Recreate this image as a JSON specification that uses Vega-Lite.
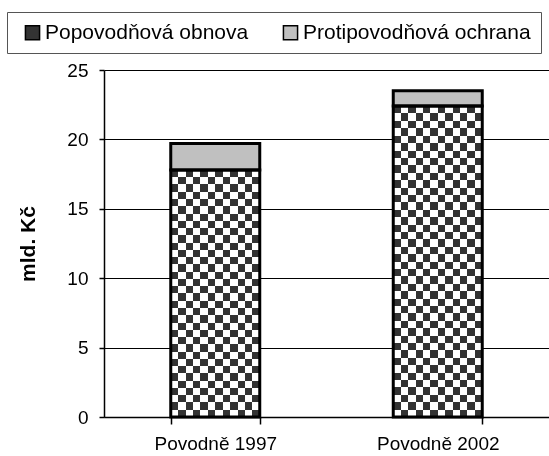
{
  "$schema": "https://vega.github.io/schema/vega-lite/v6.json",
  "autosize": {"type": "none"},
  "padding": {"left": 104, "top": 70, "right": 0, "bottom": 39},
  "width": 445,
  "height": 347,
  "background": "white",
  "config": {
    "font": "Liberation Sans",
    "view": {"stroke": null},
    "axis": {"labelColor": "black", "titleColor": "black", "domainColor": "black", "tickColor": "black", "labelFontSize": 19, "labelFont": "Liberation Sans"}
  },
  "data": {
    "values": [
      {"event": "Povodně 1997", "type": "Popovodňová obnova", "value": 17.8},
      {"event": "Povodně 1997", "type": "Protipovodňová ochrana", "value": 1.9},
      {"event": "Povodně 2002", "type": "Popovodňová obnova", "value": 22.4},
      {"event": "Povodně 2002", "type": "Protipovodňová ochrana", "value": 1.1}
    ]
  },
  "encoding": {
    "x": {
      "field": "event", "type": "nominal", "sort": null,
      "scale": {"paddingInner": 0.6, "paddingOuter": 0.3},
      "axis": {"title": null, "labelAngle": 0, "tickBand": "extent", "tickSize": 7, "labelPadding": 10, "domainWidth": 1.5, "tickWidth": 1.5, "grid": false}
    },
    "y": {
      "field": "value", "type": "quantitative", "stack": "zero",
      "scale": {"domain": [0, 25], "nice": false},
      "axis": {"title": "mld. Kč", "values": [0, 5, 10, 15, 20, 25], "grid": true, "gridColor": "black", "gridWidth": 1, "domainWidth": 1.5, "tickSize": 5, "tickWidth": 1.5, "labelPadding": 11, "titleFontSize": 21, "titleFontWeight": "bold", "titlePadding": 28}
    },
    "order": {"field": "type", "type": "nominal", "sort": "ascending"}
  },
  "layer": [
    {
      "mark": {"type": "bar"},
      "encoding": {
        "color": {
          "field": "type", "type": "nominal",
          "scale": {"domain": ["Popovodňová obnova", "Protipovodňová ochrana"], "range": ["#333333", "#C0C0C0"]},
          "legend": {
            "title": null, "orient": "none", "legendX": -97, "legendY": -58, "direction": "horizontal",
            "padding": 10, "strokeColor": "#555555", "fillColor": "white",
            "labelFontSize": 21, "labelFont": "Liberation Sans", "labelColor": "black", "labelOffset": 2, "labelLimit": 400,
            "symbolType": "square", "symbolSize": 200, "symbolStrokeColor": "black", "symbolStrokeWidth": 1.5, "symbolOffset": 5,
            "columnPadding": 26
          }
        }
      }
    },
    {
      "transform": [{"filter": "datum.type == 'Popovodňová obnova'"}],
      "mark": {"type": "bar", "fill": {"gradient": "linear", "x1": 0, "y1": 0, "x2": 1, "y2": 0, "stops": [
        {"offset": 0, "color": "#000"}, {"offset": 0.0833, "color": "#000"},
        {"offset": 0.0833, "color": "#fff"}, {"offset": 0.1667, "color": "#fff"},
        {"offset": 0.1667, "color": "#000"}, {"offset": 0.25, "color": "#000"},
        {"offset": 0.25, "color": "#fff"}, {"offset": 0.3333, "color": "#fff"},
        {"offset": 0.3333, "color": "#000"}, {"offset": 0.4167, "color": "#000"},
        {"offset": 0.4167, "color": "#fff"}, {"offset": 0.5, "color": "#fff"},
        {"offset": 0.5, "color": "#000"}, {"offset": 0.5833, "color": "#000"},
        {"offset": 0.5833, "color": "#fff"}, {"offset": 0.6667, "color": "#fff"},
        {"offset": 0.6667, "color": "#000"}, {"offset": 0.75, "color": "#000"},
        {"offset": 0.75, "color": "#fff"}, {"offset": 0.8333, "color": "#fff"},
        {"offset": 0.8333, "color": "#000"}, {"offset": 0.9167, "color": "#000"},
        {"offset": 0.9167, "color": "#fff"}, {"offset": 1, "color": "#fff"}
      ]}}
    },
    {
      "transform": [{"filter": "datum.type == 'Popovodňová obnova' && datum.event == 'Povodně 1997'"}],
      "mark": {"type": "bar", "blend": "difference", "fill": {"gradient": "linear", "x1": 0, "y1": 0, "x2": 0, "y2": 1, "stops": [
        {"offset": 0, "color": "#000"}, {"offset": 0.02941, "color": "#000"},
        {"offset": 0.02941, "color": "#fff"}, {"offset": 0.05882, "color": "#fff"},
        {"offset": 0.05882, "color": "#000"}, {"offset": 0.08824, "color": "#000"},
        {"offset": 0.08824, "color": "#fff"}, {"offset": 0.11765, "color": "#fff"},
        {"offset": 0.11765, "color": "#000"}, {"offset": 0.14706, "color": "#000"},
        {"offset": 0.14706, "color": "#fff"}, {"offset": 0.17647, "color": "#fff"},
        {"offset": 0.17647, "color": "#000"}, {"offset": 0.20588, "color": "#000"},
        {"offset": 0.20588, "color": "#fff"}, {"offset": 0.23529, "color": "#fff"},
        {"offset": 0.23529, "color": "#000"}, {"offset": 0.26471, "color": "#000"},
        {"offset": 0.26471, "color": "#fff"}, {"offset": 0.29412, "color": "#fff"},
        {"offset": 0.29412, "color": "#000"}, {"offset": 0.32353, "color": "#000"},
        {"offset": 0.32353, "color": "#fff"}, {"offset": 0.35294, "color": "#fff"},
        {"offset": 0.35294, "color": "#000"}, {"offset": 0.38235, "color": "#000"},
        {"offset": 0.38235, "color": "#fff"}, {"offset": 0.41176, "color": "#fff"},
        {"offset": 0.41176, "color": "#000"}, {"offset": 0.44118, "color": "#000"},
        {"offset": 0.44118, "color": "#fff"}, {"offset": 0.47059, "color": "#fff"},
        {"offset": 0.47059, "color": "#000"}, {"offset": 0.5, "color": "#000"},
        {"offset": 0.5, "color": "#fff"}, {"offset": 0.52941, "color": "#fff"},
        {"offset": 0.52941, "color": "#000"}, {"offset": 0.55882, "color": "#000"},
        {"offset": 0.55882, "color": "#fff"}, {"offset": 0.58824, "color": "#fff"},
        {"offset": 0.58824, "color": "#000"}, {"offset": 0.61765, "color": "#000"},
        {"offset": 0.61765, "color": "#fff"}, {"offset": 0.64706, "color": "#fff"},
        {"offset": 0.64706, "color": "#000"}, {"offset": 0.67647, "color": "#000"},
        {"offset": 0.67647, "color": "#fff"}, {"offset": 0.70588, "color": "#fff"},
        {"offset": 0.70588, "color": "#000"}, {"offset": 0.73529, "color": "#000"},
        {"offset": 0.73529, "color": "#fff"}, {"offset": 0.76471, "color": "#fff"},
        {"offset": 0.76471, "color": "#000"}, {"offset": 0.79412, "color": "#000"},
        {"offset": 0.79412, "color": "#fff"}, {"offset": 0.82353, "color": "#fff"},
        {"offset": 0.82353, "color": "#000"}, {"offset": 0.85294, "color": "#000"},
        {"offset": 0.85294, "color": "#fff"}, {"offset": 0.88235, "color": "#fff"},
        {"offset": 0.88235, "color": "#000"}, {"offset": 0.91176, "color": "#000"},
        {"offset": 0.91176, "color": "#fff"}, {"offset": 0.94118, "color": "#fff"},
        {"offset": 0.94118, "color": "#000"}, {"offset": 0.97059, "color": "#000"},
        {"offset": 0.97059, "color": "#fff"}, {"offset": 1, "color": "#fff"}
      ]}}
    },
    {
      "transform": [{"filter": "datum.type == 'Popovodňová obnova' && datum.event == 'Povodně 2002'"}],
      "mark": {"type": "bar", "blend": "difference", "fill": {"gradient": "linear", "x1": 0, "y1": 0, "x2": 0, "y2": 1, "stops": [
        {"offset": 0, "color": "#000"}, {"offset": 0.02381, "color": "#000"},
        {"offset": 0.02381, "color": "#fff"}, {"offset": 0.04762, "color": "#fff"},
        {"offset": 0.04762, "color": "#000"}, {"offset": 0.07143, "color": "#000"},
        {"offset": 0.07143, "color": "#fff"}, {"offset": 0.09524, "color": "#fff"},
        {"offset": 0.09524, "color": "#000"}, {"offset": 0.11905, "color": "#000"},
        {"offset": 0.11905, "color": "#fff"}, {"offset": 0.14286, "color": "#fff"},
        {"offset": 0.14286, "color": "#000"}, {"offset": 0.16667, "color": "#000"},
        {"offset": 0.16667, "color": "#fff"}, {"offset": 0.19048, "color": "#fff"},
        {"offset": 0.19048, "color": "#000"}, {"offset": 0.21429, "color": "#000"},
        {"offset": 0.21429, "color": "#fff"}, {"offset": 0.2381, "color": "#fff"},
        {"offset": 0.2381, "color": "#000"}, {"offset": 0.2619, "color": "#000"},
        {"offset": 0.2619, "color": "#fff"}, {"offset": 0.28571, "color": "#fff"},
        {"offset": 0.28571, "color": "#000"}, {"offset": 0.30952, "color": "#000"},
        {"offset": 0.30952, "color": "#fff"}, {"offset": 0.33333, "color": "#fff"},
        {"offset": 0.33333, "color": "#000"}, {"offset": 0.35714, "color": "#000"},
        {"offset": 0.35714, "color": "#fff"}, {"offset": 0.38095, "color": "#fff"},
        {"offset": 0.38095, "color": "#000"}, {"offset": 0.40476, "color": "#000"},
        {"offset": 0.40476, "color": "#fff"}, {"offset": 0.42857, "color": "#fff"},
        {"offset": 0.42857, "color": "#000"}, {"offset": 0.45238, "color": "#000"},
        {"offset": 0.45238, "color": "#fff"}, {"offset": 0.47619, "color": "#fff"},
        {"offset": 0.47619, "color": "#000"}, {"offset": 0.5, "color": "#000"},
        {"offset": 0.5, "color": "#fff"}, {"offset": 0.52381, "color": "#fff"},
        {"offset": 0.52381, "color": "#000"}, {"offset": 0.54762, "color": "#000"},
        {"offset": 0.54762, "color": "#fff"}, {"offset": 0.57143, "color": "#fff"},
        {"offset": 0.57143, "color": "#000"}, {"offset": 0.59524, "color": "#000"},
        {"offset": 0.59524, "color": "#fff"}, {"offset": 0.61905, "color": "#fff"},
        {"offset": 0.61905, "color": "#000"}, {"offset": 0.64286, "color": "#000"},
        {"offset": 0.64286, "color": "#fff"}, {"offset": 0.66667, "color": "#fff"},
        {"offset": 0.66667, "color": "#000"}, {"offset": 0.69048, "color": "#000"},
        {"offset": 0.69048, "color": "#fff"}, {"offset": 0.71429, "color": "#fff"},
        {"offset": 0.71429, "color": "#000"}, {"offset": 0.7381, "color": "#000"},
        {"offset": 0.7381, "color": "#fff"}, {"offset": 0.7619, "color": "#fff"},
        {"offset": 0.7619, "color": "#000"}, {"offset": 0.78571, "color": "#000"},
        {"offset": 0.78571, "color": "#fff"}, {"offset": 0.80952, "color": "#fff"},
        {"offset": 0.80952, "color": "#000"}, {"offset": 0.83333, "color": "#000"},
        {"offset": 0.83333, "color": "#fff"}, {"offset": 0.85714, "color": "#fff"},
        {"offset": 0.85714, "color": "#000"}, {"offset": 0.88095, "color": "#000"},
        {"offset": 0.88095, "color": "#fff"}, {"offset": 0.90476, "color": "#fff"},
        {"offset": 0.90476, "color": "#000"}, {"offset": 0.92857, "color": "#000"},
        {"offset": 0.92857, "color": "#fff"}, {"offset": 0.95238, "color": "#fff"},
        {"offset": 0.95238, "color": "#000"}, {"offset": 0.97619, "color": "#000"},
        {"offset": 0.97619, "color": "#fff"}, {"offset": 1, "color": "#fff"}
      ]}}
    },
    {
      "transform": [{"filter": "datum.type == 'Popovodňová obnova'"}],
      "mark": {"type": "bar", "blend": "lighten", "fill": "#333333"}
    },
    {
      "mark": {"type": "bar", "fill": "transparent", "fillOpacity": 0, "stroke": "black", "strokeWidth": 3, "strokeJoin": "miter"},
      "encoding": {"detail": {"field": "type"}}
    }
  ]
}
